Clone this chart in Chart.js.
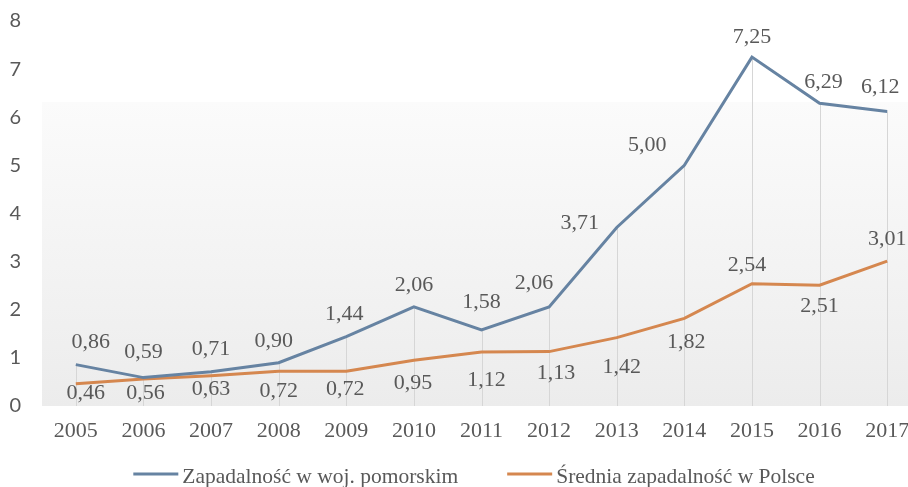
<!DOCTYPE html>
<html>
<head>
<meta charset="utf-8">
<script src="https://cdn.jsdelivr.net/npm/chart.js@4.4.1/dist/chart.umd.min.js"></script>
<style>
  html, body { margin: 0; padding: 0; background: #fff; overflow: hidden; }
  #wrap { width: 930px; height: 487px; }
</style>
</head>
<body>
<div id="wrap"><canvas id="chart" width="930" height="487"></canvas></div>
<script>
// values
const years = ['2005', '2006', '2007', '2008', '2009', '2010', '2011', '2012', '2013', '2014', '2015', '2016', '2017'];
const pomorskie = [0.86, 0.59, 0.71, 0.90, 1.44, 2.06, 1.58, 2.06, 3.71, 5.00, 7.25, 6.29, 6.12];
const polska = [0.46, 0.56, 0.63, 0.72, 0.72, 0.95, 1.12, 1.13, 1.42, 1.82, 2.54, 2.51, 3.01];
const yMin = 0;
const yMax = 8;
const seriesNames = ['Zapadalność w woj. pomorskim', 'Średnia zapadalność w Polsce'];

// label placement (pixel offsets from the point), like the hand-moved Excel labels
const blueLabelOffsets = [[15, -22], [0, -25], [0, -23], [-5, -21], [-2, -22], [0, -22], [0, -28],
  [-15, -24], [-37, -4], [-37, -20], [0, -20], [4, -21], [-7, -24]];
const orangeLabelOffsets = [[10, 9], [2, 14], [0, 14], [0, 20], [-1, 18], [-1, 23], [5, 28],
  [7, 22], [5, 30], [2, 24], [-5, -19], [0, 21], [0, -22]];

const BLUE = '#6683a2';
const ORANGE = '#d5874f';
const TEXT = '#595959';
const SERIF = '"Liberation Serif", serif';

function fmt(v) {
  return v.toFixed(2).replace('.', ',');
}

const extras = {
  id: 'extras',
  beforeDatasetsDraw(chart) {
    const { ctx, chartArea: a } = chart;
    ctx.save();
    // plot area fill
    const g = ctx.createLinearGradient(0, a.top, 0, a.bottom);
    g.addColorStop(0, '#ffffff');
    g.addColorStop(0.21, '#ffffff');
    g.addColorStop(0.211, '#fbfbfb');
    g.addColorStop(1, '#ececec');
    ctx.fillStyle = g;
    ctx.fillRect(a.left, a.top, a.right - a.left, a.bottom - a.top);

    // drop lines from the highest point to the axis
    const m0 = chart.getDatasetMeta(0).data;
    const m1 = chart.getDatasetMeta(1).data;
    ctx.strokeStyle = '#d6d6d6';
    ctx.lineWidth = 1;
    m0.forEach((p, i) => {
      const top = Math.min(p.y, m1[i].y);
      const x = Math.round(p.x) + 0.5;
      ctx.beginPath();
      ctx.moveTo(x, top);
      ctx.lineTo(x, a.bottom);
      ctx.stroke();
    });
    ctx.restore();
  },
  afterDatasetsDraw(chart) {
    const { ctx } = chart;
    ctx.save();
    ctx.font = '22px ' + SERIF;
    ctx.fillStyle = TEXT;
    ctx.textAlign = 'center';
    ctx.textBaseline = 'middle';
    const sets = [[pomorskie, blueLabelOffsets], [polska, orangeLabelOffsets]];
    sets.forEach(([vals, offs], d) => {
      chart.getDatasetMeta(d).data.forEach((p, i) => {
        ctx.fillText(fmt(vals[i]), p.x + offs[i][0], p.y + offs[i][1]);
      });
    });
    ctx.restore();
  },
  afterDraw(chart) {
    // legend, centred under the plot
    const { ctx } = chart;
    const colors = [BLUE, ORANGE];
    const lineLen = 45, textGap = 4, itemGap = 49, y = 477;
    ctx.save();
    ctx.font = '21.5px ' + SERIF;
    ctx.textBaseline = 'middle';
    ctx.textAlign = 'left';
    const widths = seriesNames.map((s) => ctx.measureText(s).width);
    const total = widths.reduce((a, w) => a + lineLen + textGap + w, 0) + itemGap;
    let x = 474 - total / 2;
    seriesNames.forEach((s, i) => {
      ctx.strokeStyle = colors[i];
      ctx.lineWidth = 3;
      ctx.beginPath();
      ctx.moveTo(x, y - 3);
      ctx.lineTo(x + lineLen, y - 3);
      ctx.stroke();
      ctx.fillStyle = TEXT;
      ctx.fillText(s, x + lineLen + textGap, y);
      x += lineLen + textGap + widths[i] + itemGap;
    });
    ctx.restore();
  }
};

new Chart(document.getElementById('chart'), {
  type: 'line',
  data: {
    labels: years,
    datasets: [
      {
        label: seriesNames[0],
        data: pomorskie,
        borderColor: BLUE,
        backgroundColor: BLUE,
        borderWidth: 3,
        pointRadius: 0,
        tension: 0,
      },
      {
        label: seriesNames[1],
        data: polska,
        borderColor: ORANGE,
        backgroundColor: ORANGE,
        borderWidth: 3,
        pointRadius: 0,
        tension: 0,
      },
    ],
  },
  options: {
    responsive: false,
    animation: false,
    devicePixelRatio: 1,
    layout: { padding: { top: 21, right: 9, bottom: 44, left: 0 } },
    scales: {
      x: {
        offset: true,
        grid: { display: false },
        border: { display: false },
        ticks: { color: TEXT, font: { family: SERIF, size: 22 }, padding: 4, maxRotation: 0 },
        afterFit(scale) { scale.height = 37; },
      },
      y: {
        min: yMin,
        max: yMax,
        grid: { display: false, tickLength: 21 },
        border: { display: false },
        ticks: { stepSize: 1, color: TEXT, font: { family: 'Lato, sans-serif', size: 20 }, padding: 0 },
        afterFit(scale) { scale.width = 42; },
      },
    },
    plugins: {
      tooltip: { enabled: false },
      legend: { display: false },
    },
  },
  plugins: [extras],
});
</script>
</body>
</html>
